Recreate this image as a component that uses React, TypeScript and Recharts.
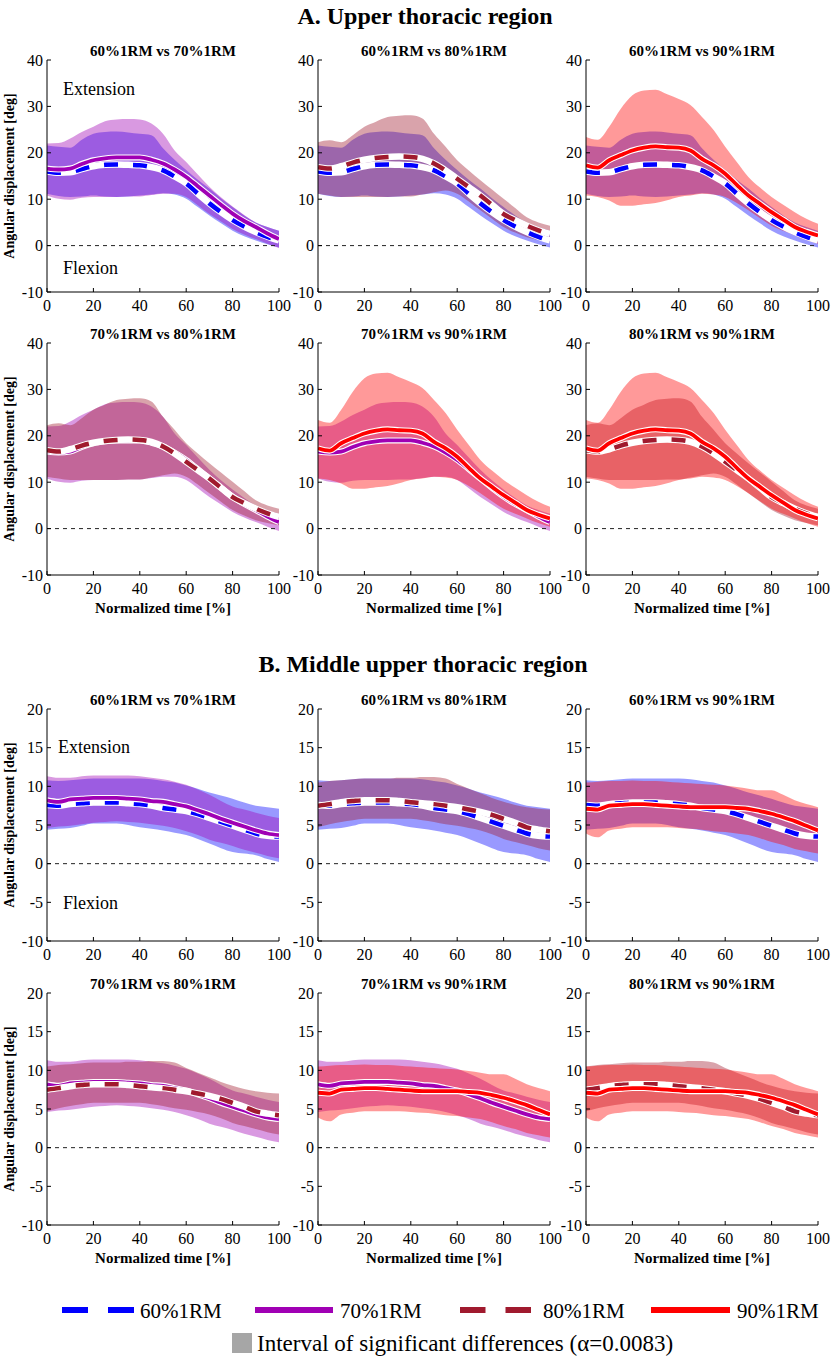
import React from 'react';
import { ComposedChart, Area, Line, XAxis, YAxis, ReferenceLine } from 'recharts';

const SERIF = "'Liberation Serif', 'Times New Roman', serif";

// Normalized time [%]
const TIME = [0, 5, 10, 15, 20, 25, 30, 35, 40, 45, 50, 55, 60, 65, 70, 75, 80, 85, 90, 95, 100];
const X_TICKS = [0, 20, 40, 60, 80, 100];
const A_Y_TICKS = [-10, 0, 10, 20, 30, 40];
const B_Y_TICKS = [-10, -5, 0, 5, 10, 15, 20];

// A. Upper thoracic region
const A60_MEAN = [16.0, 15.7, 15.8, 16.5, 17.1, 17.4, 17.5, 17.4, 17.3, 16.9, 16.2, 14.9, 13.4, 11.2, 9.1, 7.2, 5.5, 4.1, 2.9, 1.9, 1.1];
const A60_HI = [21.6, 21.3, 21.1, 22.8, 24.1, 24.5, 24.6, 24.4, 24.1, 23.8, 21.0, 18.5, 16.3, 14.2, 12.3, 10.2, 8.3, 6.5, 5.0, 4.0, 3.2];
const A60_LO = [11.2, 10.7, 10.5, 10.6, 10.8, 10.6, 10.5, 10.6, 10.8, 11.0, 11.3, 11.0, 10.1, 8.3, 6.5, 4.8, 3.2, 2.0, 1.1, 0.3, -0.4];

const A70_MEAN = [16.6, 16.4, 16.6, 17.6, 18.4, 18.8, 19.0, 19.0, 19.0, 18.5, 17.7, 16.4, 14.8, 12.8, 10.8, 8.8, 6.9, 5.3, 4.0, 2.6, 1.4];
const A70_HI = [22.0, 22.1, 23.1, 24.5, 25.6, 26.8, 27.2, 27.3, 27.2, 26.3, 24.1, 20.5, 18.0, 15.3, 12.7, 10.4, 8.4, 6.6, 5.0, 4.0, 3.2];
const A70_LO = [10.8, 10.1, 9.9, 10.3, 10.5, 10.5, 10.5, 10.6, 10.6, 10.9, 11.2, 11.2, 10.5, 8.7, 6.8, 5.2, 3.6, 2.4, 1.4, 0.4, -0.5];

const A80_MEAN = [16.9, 16.6, 17.1, 17.9, 18.5, 18.9, 19.1, 19.2, 19.1, 18.7, 17.7, 16.2, 14.4, 12.6, 10.8, 8.8, 6.8, 5.5, 4.3, 3.3, 2.5];
const A80_HI = [22.3, 22.7, 22.3, 23.8, 25.6, 26.7, 27.7, 28.0, 28.1, 27.4, 24.1, 21.3, 18.4, 16.2, 14.1, 12.1, 10.1, 8.1, 6.1, 5.0, 4.3];
const A80_LO = [11.2, 10.8, 10.5, 10.5, 10.5, 10.5, 10.5, 10.6, 10.6, 11.0, 11.5, 11.9, 11.2, 9.5, 7.6, 5.8, 4.0, 2.8, 1.8, 1.2, 0.7];

const A90_MEAN = [17.3, 16.8, 18.4, 19.5, 20.5, 21.1, 21.4, 21.2, 21.1, 20.5, 18.7, 17.3, 15.5, 13.1, 10.8, 9.0, 7.2, 5.6, 4.0, 3.0, 2.2];
const A90_HI = [23.4, 22.8, 25.6, 29.5, 32.4, 33.4, 33.6, 32.6, 31.6, 30.3, 27.7, 24.9, 21.3, 18.0, 14.8, 12.5, 10.5, 8.8, 7.2, 5.8, 4.7];
const A90_LO = [10.8, 10.5, 9.7, 8.6, 8.6, 8.9, 9.2, 9.8, 10.5, 10.8, 11.2, 11.0, 10.5, 9.2, 7.6, 5.9, 4.3, 3.2, 2.2, 1.2, 0.4];

// B. Middle upper thoracic region
const B60_MEAN = [7.6, 7.5, 7.7, 7.8, 7.9, 7.9, 7.9, 7.8, 7.7, 7.5, 7.2, 7.0, 6.8, 6.4, 5.9, 5.4, 4.9, 4.4, 3.9, 3.6, 3.5];
const B60_HI = [10.8, 10.7, 10.8, 10.9, 11.0, 11.0, 11.0, 11.0, 11.0, 10.9, 10.7, 10.5, 10.1, 9.7, 9.2, 8.8, 8.4, 7.9, 7.5, 7.3, 7.1];
const B60_LO = [4.4, 4.5, 4.6, 4.9, 5.2, 5.2, 5.2, 5.0, 4.7, 4.5, 4.3, 4.0, 3.7, 3.2, 2.6, 2.0, 1.5, 1.3, 1.1, 0.6, 0.2];

const B70_MEAN = [8.2, 8.0, 8.3, 8.4, 8.5, 8.5, 8.5, 8.4, 8.3, 8.1, 8.0, 7.7, 7.4, 6.9, 6.4, 5.8, 5.3, 4.8, 4.3, 3.9, 3.7];
const B70_HI = [11.3, 11.1, 11.1, 11.3, 11.4, 11.4, 11.4, 11.4, 11.3, 11.1, 10.9, 10.6, 10.2, 9.6, 8.9, 8.1, 7.4, 7.0, 6.6, 6.2, 5.9];
const B70_LO = [4.6, 4.8, 4.9, 5.1, 5.3, 5.4, 5.5, 5.4, 5.3, 5.1, 4.9, 4.6, 4.2, 3.7, 3.1, 2.7, 2.3, 1.8, 1.4, 1.0, 0.7];

const B80_MEAN = [7.5, 7.7, 7.95, 8.1, 8.2, 8.2, 8.2, 8.1, 7.95, 7.8, 7.7, 7.5, 7.3, 7.0, 6.7, 6.3, 5.8, 5.3, 4.7, 4.4, 4.2];
const B80_HI = [10.5, 10.7, 10.8, 10.9, 11.0, 11.0, 11.0, 11.1, 11.1, 11.2, 11.2, 11.0, 10.3, 9.7, 9.1, 8.5, 8.0, 7.6, 7.3, 7.1, 7.0];
const B80_LO = [4.7, 5.1, 5.4, 5.6, 5.8, 5.8, 5.8, 5.8, 5.8, 5.6, 5.4, 5.1, 4.9, 4.6, 4.3, 3.8, 3.2, 2.8, 2.4, 2.0, 1.7];

const B90_MEAN = [7.1, 7.0, 7.5, 7.6, 7.7, 7.7, 7.6, 7.5, 7.4, 7.3, 7.3, 7.3, 7.3, 7.2, 7.1, 6.8, 6.45, 6.0, 5.5, 4.9, 4.3];
const B90_HI = [10.5, 10.6, 10.7, 10.7, 10.75, 10.7, 10.7, 10.6, 10.5, 10.4, 10.3, 10.2, 10.1, 9.9, 9.7, 9.5, 9.5, 8.9, 8.2, 7.7, 7.3];
const B90_LO = [3.9, 3.4, 4.3, 4.5, 4.7, 4.7, 4.7, 4.7, 4.6, 4.5, 4.4, 4.2, 4.1, 3.9, 3.7, 3.3, 2.8, 2.4, 1.9, 1.6, 1.3];

const CONDS = ['60', '70', '80', '90'];
const COND_LABELS = ['60%1RM', '70%1RM', '80%1RM', '90%1RM'];
const PAIRS: [string, string][] = [['60', '70'], ['60', '80'], ['60', '90'], ['70', '80'], ['70', '90'], ['80', '90']];

const STYLE: Record<string, { color: string; dashed: boolean }> = {
  '60': { color: '#0000ff', dashed: true },
  '70': { color: '#a000b4', dashed: false },
  '80': { color: '#a01a2e', dashed: true },
  '90': { color: '#ff0000', dashed: false },
};

type Series = { mean: number[]; lo: number[]; hi: number[] };
const REGION_A: Record<string, Series> = {
  '60': { mean: A60_MEAN, lo: A60_LO, hi: A60_HI },
  '70': { mean: A70_MEAN, lo: A70_LO, hi: A70_HI },
  '80': { mean: A80_MEAN, lo: A80_LO, hi: A80_HI },
  '90': { mean: A90_MEAN, lo: A90_LO, hi: A90_HI },
};
const REGION_B: Record<string, Series> = {
  '60': { mean: B60_MEAN, lo: B60_LO, hi: B60_HI },
  '70': { mean: B70_MEAN, lo: B70_LO, hi: B70_HI },
  '80': { mean: B80_MEAN, lo: B80_LO, hi: B80_HI },
  '90': { mean: B90_MEAN, lo: B90_LO, hi: B90_HI },
};

const buildRows = (set: Record<string, Series>) =>
  TIME.map((t, i) => {
    const row: any = { t };
    CONDS.forEach((c) => {
      row['m' + c] = set[c].mean[i];
      row['r' + c] = [set[c].lo[i], set[c].hi[i]];
    });
    return row;
  });

const ROWS_A = buildRows(REGION_A);
const ROWS_B = buildRows(REGION_B);

const COL_LEFT = [47, 318, 586];
const PLOT_W = 232;
const PLOT_H = 232;
const ML = 45;
const MT = 10;
const MR = 20;
const XH = 35;

function Txt({ x, y, size, bold, children, anchor = 'middle', rotate = false }: any) {
  const tx = anchor === 'middle' ? '-50%' : '0';
  return (
    <div
      style={{
        position: 'absolute',
        left: x,
        top: y,
        transform: `translate(${tx}, -50%)${rotate ? ' rotate(-90deg)' : ''}`,
        transformOrigin: rotate ? 'center' : undefined,
        fontFamily: SERIF,
        fontSize: size,
        fontWeight: bold ? 'bold' : 'normal',
        whiteSpace: 'nowrap',
        lineHeight: 1,
        color: '#000',
      }}
    >
      {children}
    </div>
  );
}

const TICK_STYLE = { fill: '#000', fontSize: 16, fontFamily: SERIF };

function Panel({ rows, pair, left, top, yDomain, yTicks }: any) {
  const [a, b] = pair;
  const sa = STYLE[a];
  const sb = STYLE[b];
  const ax = { xAxisId: 'b', yAxisId: 'l' };
  const mk = (c: string, s: { color: string; dashed: boolean }) => [
    <Line key={'w' + c} {...ax} type="monotone" dataKey={'m' + c} stroke="#ffffff" strokeWidth={s.dashed ? 6.5 : 6} dot={false} activeDot={false} isAnimationActive={false} />,
    <Line key={'l' + c} {...ax} type="monotone" dataKey={'m' + c} stroke={s.color} strokeWidth={s.dashed ? 4.5 : 3.8} strokeDasharray={s.dashed ? '14 15' : undefined} dot={false} activeDot={false} isAnimationActive={false} />,
  ];
  return (
    <div style={{ position: 'absolute', left: left - ML, top: top - MT, fontFamily: SERIF }}>
      <ComposedChart width={PLOT_W + ML + MR} height={PLOT_H + MT + XH} data={rows} margin={{ top: MT, right: MR, bottom: 0, left: 5 }} style={{ fontFamily: SERIF }}>
        <XAxis xAxisId="b" dataKey="t" type="number" domain={[0, 100]} ticks={X_TICKS} interval={0} allowDataOverflow tickSize={-4} tickMargin={12} height={XH} stroke="#000" tick={TICK_STYLE} />
        <XAxis xAxisId="t" orientation="top" dataKey="t" type="number" domain={[0, 100]} ticks={X_TICKS} interval={0} allowDataOverflow tickSize={-4} height={0} tick={false} stroke="#000" />
        <YAxis yAxisId="l" type="number" domain={yDomain} ticks={yTicks} interval={0} allowDataOverflow tickSize={-4} tickMargin={8} width={40} stroke="#000" tick={TICK_STYLE} />
        <YAxis yAxisId="r" orientation="right" type="number" domain={yDomain} ticks={yTicks} interval={0} allowDataOverflow tickSize={-4} width={0} tick={false} stroke="#000" />
        <Area {...ax} type="monotone" dataKey={'r' + a} stroke="none" fill={sa.color} fillOpacity={0.4} isAnimationActive={false} activeDot={false} />
        <Area {...ax} type="monotone" dataKey={'r' + b} stroke="none" fill={sb.color} fillOpacity={0.4} isAnimationActive={false} activeDot={false} />
        <ReferenceLine {...ax} y={0} stroke="#222" strokeWidth={1} strokeDasharray="4 4" />
        {mk(a, sa)}
        {mk(b, sb)}
      </ComposedChart>
    </div>
  );
}

function Region({ rows, tops, yDomain, yTicks, extY, flexY }: any) {
  return (
    <>
      {PAIRS.map((p, i) => {
        const col = i % 3;
        const row = Math.floor(i / 3);
        const left = COL_LEFT[col];
        const top = tops[row];
        return (
          <React.Fragment key={i}>
            <Panel rows={rows} pair={p} left={left} top={top} yDomain={yDomain} yTicks={yTicks} />
            <Txt x={left + PLOT_W / 2} y={top - 9} size={15} bold>
              {`${p[0]}%1RM vs ${p[1]}%1RM`}
            </Txt>
            {col === 0 && (
              <Txt x={10} y={top + PLOT_H / 2} size={14} bold rotate>
                Angular displacement [deg]
              </Txt>
            )}
            {row === 1 && (
              <Txt x={left + PLOT_W / 2} y={top + PLOT_H + 33} size={15} bold>
                Normalized time [%]
              </Txt>
            )}
          </React.Fragment>
        );
      })}
      <Txt x={extY[0]} y={extY[1]} size={18} anchor="start">Extension</Txt>
      <Txt x={flexY[0]} y={flexY[1]} size={18} anchor="start">Flexion</Txt>
    </>
  );
}

function LegendSwatch({ x0, x1, color, dashed }: any) {
  if (dashed) {
    const w = (x1 - x0 - 20) / 2;
    return (
      <>
        <rect x={x0} y={1307} width={w} height={6} fill={color} />
        <rect x={x1 - w} y={1307} width={w} height={6} fill={color} />
      </>
    );
  }
  return <rect x={x0} y={1307} width={x1 - x0} height={6} fill={color} />;
}

const LEG_SWATCH = [
  [62, 134],
  [255, 333],
  [460, 531],
  [651, 730],
];
const LEG_TEXT_X = [140, 340, 543, 737];

export default function App() {
  return (
    <div style={{ position: 'absolute', left: 0, top: 0, width: 834, height: 1358, background: '#fff', overflow: 'hidden', fontFamily: SERIF }}>
      <Txt x={425} y={16} size={24} bold>A. Upper thoracic region</Txt>
      <Txt x={423} y={664} size={24} bold>B. Middle upper thoracic region</Txt>
      <Region rows={ROWS_A} tops={[60, 343]} yDomain={[-10, 40]} yTicks={A_Y_TICKS} extY={[63, 89]} flexY={[63, 268]} />
      <Region rows={ROWS_B} tops={[709, 993]} yDomain={[-10, 20]} yTicks={B_Y_TICKS} extY={[58, 747]} flexY={[63, 903]} />
      <svg width={834} height={1358} style={{ position: 'absolute', left: 0, top: 0, pointerEvents: 'none' }}>
        {CONDS.map((c, i) => (
          <LegendSwatch key={c} x0={LEG_SWATCH[i][0]} x1={LEG_SWATCH[i][1]} color={STYLE[c].color} dashed={STYLE[c].dashed} />
        ))}
        <rect x={232} y={1333} width={20} height={20} fill="#a6a6a6" />
      </svg>
      {COND_LABELS.map((l, i) => (
        <Txt key={l} x={LEG_TEXT_X[i]} y={1311} size={21} anchor="start">{l}</Txt>
      ))}
      <Txt x={257} y={1343} size={23} anchor="start">Interval of significant differences (α=0.0083)</Txt>
    </div>
  );
}
